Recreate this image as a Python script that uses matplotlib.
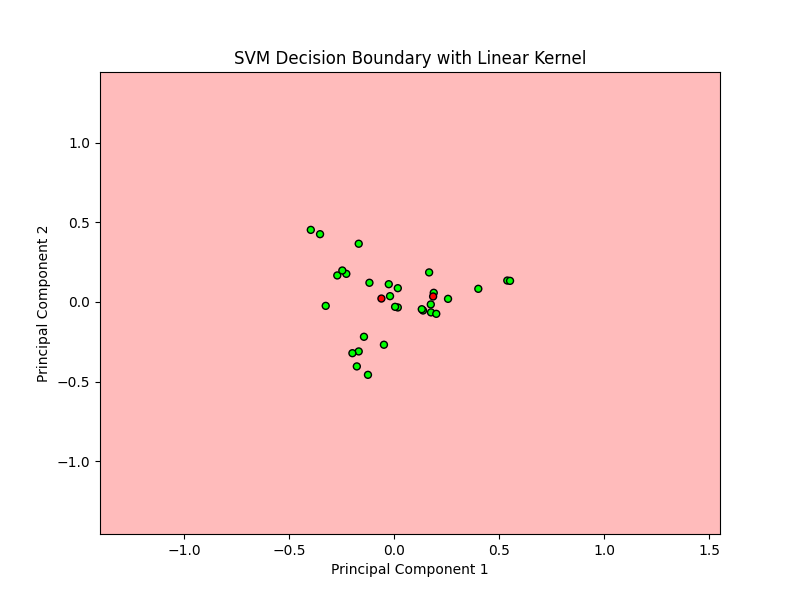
import numpy as np
import matplotlib
matplotlib.use('Agg')
import matplotlib.pyplot as plt
from matplotlib.colors import ListedColormap

# points, in drawing order (later ones sit on top)
pc1 = [-0.397, -0.353, -0.169, -0.326, -0.271, -0.228, -0.247, -0.118, -0.026, 0.017,
       -0.020, 0.017, 0.004, 0.166, 0.188, 0.185, 0.256, 0.400, 0.538, 0.551,
       0.174, 0.137, 0.131, 0.175, 0.200, -0.144, -0.049, -0.169, -0.199, -0.178,
       -0.125, -0.061]
pc2 = [0.452, 0.425, 0.365, -0.025, 0.166, 0.176, 0.197, 0.120, 0.111, 0.086,
       0.036, -0.035, -0.031, 0.185, 0.057, 0.034, 0.019, 0.082, 0.134, 0.132,
       -0.016, -0.054, -0.046, -0.066, -0.075, -0.219, -0.269, -0.311, -0.322, -0.405,
       -0.458, 0.021]
labels = [1, 1, 1, 1, 1, 1, 1, 1, 1, 1,
          1, 1, 1, 1, 1, 0, 1, 1, 1, 1,
          1, 1, 1, 1, 1, 1, 1, 1, 1, 1,
          1, 0]

x_min, x_max = -1.4, 1.55
y_min, y_max = -1.457, 1.443

cmap_light = ListedColormap(['#FFAAAA', '#AAFFAA'])
cmap_bold = ListedColormap(['#FF0000', '#00FF00'])

# the classifier predicts one class over the whole plane
xx, yy = np.meshgrid(np.arange(x_min, x_max, 0.02), np.arange(y_min, y_max, 0.02))
zz = np.zeros(xx.shape)

plt.figure(figsize=(8, 6))
plt.pcolormesh(xx, yy, zz, cmap=cmap_light, vmin=0, vmax=1, alpha=0.8, shading='auto')
plt.scatter(pc1, pc2, c=labels, cmap=cmap_bold, edgecolor='k', s=25, linewidths=1.0)
plt.xlim(x_min, x_max)
plt.ylim(y_min, y_max)
plt.title('SVM Decision Boundary with Linear Kernel')
plt.xlabel('Principal Component 1')
plt.ylabel('Principal Component 2')
plt.savefig('out.png', dpi=100)
